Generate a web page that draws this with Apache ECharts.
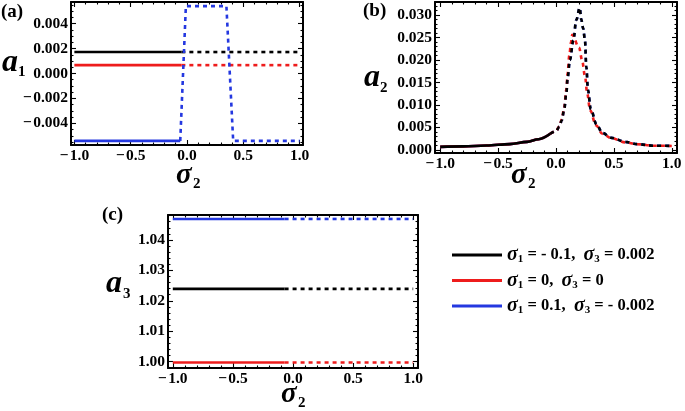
<!DOCTYPE html>
<html><head><meta charset="utf-8">
<script src="https://cdn.jsdelivr.net/npm/echarts@6/dist/echarts.min.js"></script>
<style>html,body{margin:0;padding:0;background:#fff}#c{width:685px;height:411px}</style>
</head><body><div id="c"></div>
<script>
// ---------------- data ----------------
// tick labels
const xTicks  = [-1, -0.5, 0, 0.5, 1];
const a1Ticks = [-0.004, -0.002, 0, 0.002, 0.004];
const a2Ticks = [0, 0.005, 0.01, 0.015, 0.02, 0.025, 0.03];
const a3Ticks = [1.00, 1.01, 1.02, 1.03, 1.04];

// panel (a): a1 vs sigma2
const a1Sigma     = [-1, -0.05, 1];
const a1Black     = [0.00172, 0.00172, 0.00172];
const a1Red       = [0.00067, 0.00067, 0.00067];
const a1BlueSigma = [-1, -0.06, -0.01, 0.35, 0.41, 1];
const a1Blue      = [-0.0054, -0.0054, 0.0054, 0.0054, -0.0054, -0.0054];

// panel (b): a2 vs sigma2
const a2Sigma = [-1, -0.8, -0.6, -0.4, -0.25, -0.15, -0.05, 0, 0.03, 0.05, 0.07, 0.09, 0.1, 0.12, 0.15, 0.175, 0.205, 0.218, 0.235, 0.25, 0.262, 0.276, 0.3, 0.35, 0.4, 0.48, 0.6, 0.7, 0.85, 1.0];
const a2Black = [0.0007, 0.0008, 0.0010, 0.0013, 0.0018, 0.0024, 0.0036, 0.0042, 0.0052, 0.0066, 0.0089, 0.0127, 0.016, 0.020, 0.0244, 0.0289, 0.0316, 0.029, 0.027, 0.0244, 0.0184, 0.0133, 0.0091, 0.0057, 0.0038, 0.0027, 0.0018, 0.0013, 0.00095, 0.0009];
const a2Blue  = a2Black; // blue curve coincides with the black one
const a2RedSigma = [-1, -0.8, -0.6, -0.4, -0.25, -0.15, -0.05, 0, 0.03, 0.05, 0.07, 0.09, 0.1, 0.115, 0.13, 0.14, 0.2, 0.225, 0.25, 0.27, 0.295, 0.345, 0.4, 0.48, 0.6, 0.7, 0.85, 1.0];
const a2Red      = [0.0007, 0.0008, 0.0010, 0.0013, 0.0018, 0.0024, 0.0036, 0.0042, 0.0053, 0.0068, 0.0093, 0.0135, 0.017, 0.021, 0.024, 0.0256, 0.0227, 0.020, 0.0165, 0.0125, 0.0088, 0.0055, 0.0036, 0.0026, 0.0017, 0.0013, 0.00095, 0.0009];

// panel (c): a3 vs sigma2
const a3Sigma = [-1, -0.07, 1];
const a3Black = [1.0239, 1.0239, 1.0239];
const a3Red   = [0.9997, 0.9997, 0.9997];
const a3Blue  = [1.0469, 1.0469, 1.0469];

// sigma2 where the solid branch turns into the dashed one
const splitA = -0.05, splitABlue = -0.06, splitB = -0.05, splitC = -0.07;

// legend texts
const legendNames = ['k', 'r', 'b'];
const legendS1 = ['- 0.1', '0', '0.1'];
const legendS3 = ['0.002', '0', '- 0.002'];

// ---------------- chart ----------------
const FONT = '"Liberation Serif", "Times New Roman", serif';
const COL = { k: '#000000', r: '#ee1c1c', b: '#2438e0' };

function fmt(dec) {
  return v => { const s = Math.abs(v).toFixed(dec); return v < -1e-12 ? '\u2212\u200A' + s : s; };
}
function minors(min, max, step, majors) {
  const out = [];
  const k0 = Math.ceil(min / step - 1e-9);
  for (let k = k0; k * step <= max + 1e-12; k++) {
    const v = +(k * step).toFixed(10);
    if (v <= min || v >= max) continue;
    if (!majors.some(m => Math.abs(m - v) < step * 1e-3)) out.push(v);
  }
  return out;
}

const panels = [
  { rect: { left: 71,  top: 2,   width: 232, height: 143 }, xMin: -1.03,  xMax: 1.03,  yMin: -0.00573, yMax: 0.00573, yTicks: a1Ticks, yStep: 0.0005, yDec: 3 },
  { rect: { left: 435, top: 2,   width: 242, height: 151 }, xMin: -1.045, xMax: 1.045, yMin: -0.00067, yMax: 0.0329,  yTicks: a2Ticks, yStep: 0.001,  yDec: 3 },
  { rect: { left: 168, top: 215, width: 250, height: 153 }, xMin: -1.04,  xMax: 1.04,  yMin: 0.9979,   yMax: 1.0482,  yTicks: a3Ticks, yStep: 0.002,  yDec: 2 }
];

const grids = [], xAxes = [], yAxes = [];
panels.forEach(p => grids.push(Object.assign({ containLabel: false }, p.rect)));
panels.forEach(p => grids.push(Object.assign({ containLabel: false }, p.rect)));

function axis(dim, gridIndex, position, min, max, ticks, len, showLine, labelFmt) {
  return {
    type: 'value', gridIndex, position, min, max,
    axisLine: { show: showLine, onZero: false, lineStyle: { color: '#000', width: 2 } },
    splitLine: { show: false },
    axisTick: { show: true, inside: true, length: len, customValues: ticks, lineStyle: { color: '#000', width: 1.1 } },
    minorTick: { show: false },
    axisLabel: labelFmt ? {
      show: true, customValues: ticks, formatter: labelFmt,
      fontFamily: FONT, fontWeight: 'bold', fontSize: 15.5, color: '#000', margin: dim === 'x' ? 3 : 3
    } : { show: false }
  };
}
// main axes (frame + major ticks + labels)
panels.forEach((p, i) => {
  xAxes.push(axis('x', i, 'bottom', p.xMin, p.xMax, xTicks, 5, true, fmt(1)));
  xAxes.push(axis('x', i, 'top', p.xMin, p.xMax, xTicks, 5, true, null));
  yAxes.push(axis('y', i, 'left', p.yMin, p.yMax, p.yTicks, 5, true, fmt(p.yDec)));
  yAxes.push(axis('y', i, 'right', p.yMin, p.yMax, p.yTicks, 5, true, null));
});
// minor ticks on duplicate grids
panels.forEach((p, i) => {
  const xm = minors(p.xMin, p.xMax, 0.1, xTicks);
  const ym = minors(p.yMin, p.yMax, p.yStep, p.yTicks);
  xAxes.push(axis('x', 3 + i, 'bottom', p.xMin, p.xMax, xm, 2.5, false, null));
  xAxes.push(axis('x', 3 + i, 'top', p.xMin, p.xMax, xm, 2.5, false, null));
  yAxes.push(axis('y', 3 + i, 'left', p.yMin, p.yMax, ym, 2.5, false, null));
  yAxes.push(axis('y', 3 + i, 'right', p.yMin, p.yMax, ym, 2.5, false, null));
});

const series = [];
function addCurve(panel, name, xs, ys, split, smooth) {
  const solid = [], dashed = [];
  xs.forEach((x, i) => {
    if (x <= split + 1e-12) solid.push([x, ys[i]]);
    if (x >= split - 1e-12) dashed.push([x, ys[i]]);
  });
  const base = {
    name, type: 'line', xAxisIndex: 2 * panel, yAxisIndex: 2 * panel,
    symbol: 'none', showSymbol: false, animation: false, clip: true,
    smooth: smooth ? 0.35 : false, smoothMonotone: smooth ? 'x' : undefined,
    itemStyle: { color: COL[name] }
  };
  series.push(Object.assign({}, base, { data: solid, lineStyle: { color: COL[name], width: 2.6, type: 'solid' } }));
  series.push(Object.assign({}, base, { data: dashed, lineStyle: { color: COL[name], width: 2.6, type: [4, 4] } }));
}
// (a)
addCurve(0, 'k', a1Sigma, a1Black, splitA, false);
addCurve(0, 'r', a1Sigma, a1Red, splitA, false);
addCurve(0, 'b', a1BlueSigma, a1Blue, splitABlue, false);
// (b)
addCurve(1, 'b', a2Sigma, a2Blue, splitB, true);
addCurve(1, 'r', a2RedSigma, a2Red, splitB, true);
addCurve(1, 'k', a2Sigma, a2Black, splitB, true);
// (c)
addCurve(2, 'k', a3Sigma, a3Black, splitC, false);
addCurve(2, 'r', a3Sigma, a3Red, splitC, false);
addCurve(2, 'b', a3Sigma, a3Blue, splitC, false);

function txt(text, x, y, font) {
  return { type: 'text', x, y, silent: true, style: { text, font, fill: '#000', align: 'left', verticalAlign: 'middle' } };
}
const SERIF = '"Liberation Serif", serif';
const graphic = [
  txt('(a)', 1, 12.5, 'bold 19px ' + SERIF),
  txt('(b)', 363, 11.5, 'bold 19px ' + SERIF),
  txt('(c)', 102, 215.5, 'bold 19px ' + SERIF),
  txt('a', 2, 62.5, 'italic bold 32px ' + SERIF), txt('1', 18, 72, 'bold 15px ' + SERIF),
  txt('a', 364, 78, 'italic bold 32px ' + SERIF), txt('2', 380, 88.5, 'bold 15px ' + SERIF),
  txt('a', 106, 283.5, 'italic bold 32px ' + SERIF), txt('3', 123, 294, 'bold 15px ' + SERIF),
  txt('\u03C3', 176, 175.5, 'italic bold 29px ' + SERIF), txt('2', 193, 184, 'bold 15px ' + SERIF),
  txt('\u03C3', 511, 175.5, 'italic bold 29px ' + SERIF), txt('2', 528, 184, 'bold 15px ' + SERIF),
  txt('\u03C3', 281, 394.5, 'italic bold 29px ' + SERIF), txt('2', 298, 403, 'bold 15px ' + SERIF)
];

const chart = echarts.init(document.getElementById('c'), null, { renderer: 'canvas' });
chart.setOption({
  animation: false,
  backgroundColor: '#fff',
  grid: grids, xAxis: xAxes, yAxis: yAxes, series, graphic,
  legend: {
    show: true, orient: 'vertical', left: 447, top: 240,
    itemWidth: 50, itemHeight: 3, itemGap: 5.5, icon: 'rect', selectedMode: false,
    data: legendNames,
    formatter: name => {
      const i = legendNames.indexOf(name);
      return '{g|\u03C3}{s|1}{t| = ' + legendS1[i] + ',  }{g|\u03C3}{s|3}{t| = ' + legendS3[i] + '}';
    },
    textStyle: {
      fontFamily: FONT, fontWeight: 'bold', fontSize: 16, color: '#000',
      rich: {
        g: { fontFamily: FONT, fontStyle: 'italic', fontWeight: 'bold', fontSize: 20, lineHeight: 20 },
        s: { fontFamily: FONT, fontWeight: 'bold', fontSize: 11, lineHeight: 12, verticalAlign: 'bottom' },
        t: { fontFamily: FONT, fontWeight: 'bold', fontSize: 16.5, lineHeight: 20 }
      }
    }
  }
});
</script></body></html>
